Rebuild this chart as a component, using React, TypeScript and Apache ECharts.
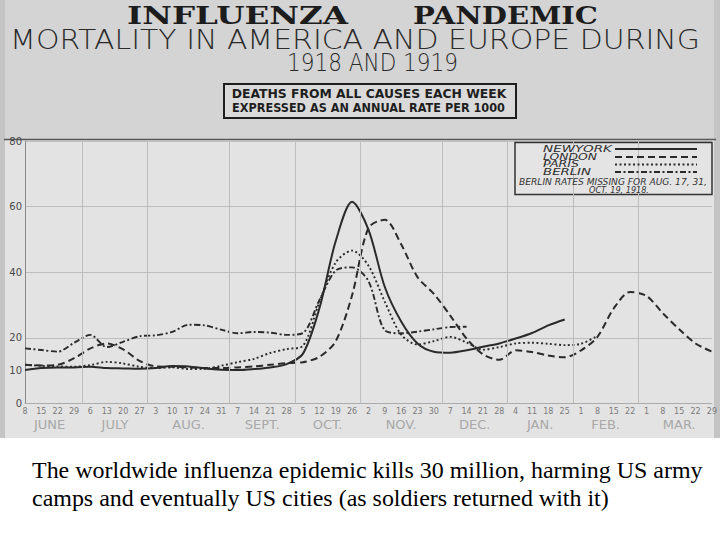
import React, { useEffect, useRef } from "react";
import * as echarts from "echarts";

// ---- data ----
const weekDays = ["8","15","22","29","6","13","20","27","3","10","17","24","31","7","14","21","28","5","12","19","26","2","9","16","23","30","7","14","21","28","4","11","18","25","1","8","15","22","1","8","15","22","29"];
const weekMonth = [0,0,0,0,1,1,1,1,2,2,2,2,2,3,3,3,3,4,4,4,4,5,5,5,5,5,6,6,6,6,7,7,7,7,8,8,8,8,9,9,9,9,9];
const monthNames = ["JUNE","JULY","AUG.","SEPT.","OCT.","NOV.","DEC.","JAN.","FEB.","MAR."];
const yLabelValues = [0, 10, 20, 40, 60, 80];

const seriesNames = ["NEWYORK", "LONDON", "PARIS", "BERLIN"];

const newYork = [10.2,10.8,11.0,11.0,11.2,10.8,10.7,10.6,10.8,11.4,11.3,10.7,10.3,10.2,10.5,11.0,12.0,15.2,29,49.5,61.5,53,35.5,25,18.3,15.8,15.5,16.2,17.3,18.3,19.8,21.5,23.8,25.6,null,null,null,null,null,null,null,null,null];
const london = [11.8,11.6,11.8,13.8,16.8,18.3,16.5,13.0,11.3,11.2,11.0,10.8,10.8,11.0,11.3,11.8,12.3,12.6,14.2,19,33,53.5,56,48.5,38.5,33.4,26.8,19.8,15,13.3,16.2,15.7,14.6,14.1,16.2,20.3,29,34,32.8,27.5,22.6,18.3,15.8];
const paris = [11.8,11.5,11.3,11.2,11.7,12.7,12.2,11.2,10.8,11.0,10.5,10.6,11.5,12.6,13.6,15.4,16.6,17.6,31,43,46.6,42,31,21,18,19,20.3,18.6,16.4,17.2,18.3,18.5,18.2,17.8,18.2,20.6,null,null,null,null,null,null,null];
const berlin = [16.8,16.3,15.8,18.5,20.9,17.2,18.8,20.5,20.8,21.8,24.0,23.8,22.5,21.4,21.8,21.6,20.9,21.5,31.5,40.5,41.5,37.3,22.3,21.4,21.9,22.6,23.3,23.4,null,null,null,null,null,null,null,null,null,null,null,null,null,null,null];

const titleMain = ["INFLUENZA", "PANDEMIC"];
const titleSub = "MORTALITY IN AMERICA AND EUROPE DURING";
const titleYears = "1918 AND 1919";
const boxLines = ["DEATHS FROM ALL CAUSES EACH WEEK", "EXPRESSED AS AN ANNUAL RATE PER 1000"];
const noteLines = ["BERLIN RATES MISSING FOR AUG. 17, 31,", "OCT. 19, 1918."];
const captionLines = [
  "The worldwide influenza epidemic kills 30 million, harming US army",
  "camps and eventually US cities (as soldiers returned with it)",
];

function measureText(text: string, font: string): number {
  const ctx = document.createElement("canvas").getContext("2d");
  if (!ctx) return text.length * 10;
  ctx.font = font;
  return ctx.measureText(text).width || 1;
}

function fitText(text: string, cx: number, cy: number, width: number, size: number, family: string, weight: string, fstyle: string, color: string, z = 10) {
  const w = measureText(text, `${fstyle} ${weight} ${size}px ${family}`);
  return {
    type: "text",
    x: cx,
    y: cy,
    scaleX: width / w,
    z,
    silent: true,
    style: {
      text,
      fontSize: size,
      fontFamily: family,
      fontWeight: weight,
      fontStyle: fstyle,
      fill: color,
      align: "center",
      verticalAlign: "middle",
    },
  };
}

export default function App() {
  const ref = useRef<HTMLDivElement>(null);

  useEffect(() => {
    if (!ref.current) return;
    const chart = echarts.init(ref.current, null, { renderer: "svg" });

    const toPairs = (arr: (number | null)[]) =>
      arr.map((v, i) => [i, v]).filter((p) => p[1] !== null);

    const monthCenters = monthNames.map((_, m) => {
      const idx = weekMonth.map((mm, i) => (mm === m ? i : -1)).filter((i) => i >= 0);
      return idx.reduce((a, b) => a + b, 0) / idx.length;
    });
    const monthBounds: number[] = [];
    for (let i = 1; i < weekMonth.length; i++) {
      if (weekMonth[i] !== weekMonth[i - 1]) monthBounds.push(i - 0.5);
    }

    const ink = "#2a2a2a";
    const styles: any[] = [
      { type: "solid", dash: null, width: 2 },
      { type: [7, 4], dash: [7, 4], width: 2 },
      { type: [2, 2.5], dash: [2, 2.5], width: 1.9 },
      { type: [6, 2.5, 2, 2.5], dash: [6, 2.5, 2, 2.5], width: 1.9 },
    ];
    const dataSets = [newYork, london, paris, berlin];

    const serif = "'DejaVu Serif'";
    const sans = "'DejaVu Sans'";
    const times = "'Liberation Serif'";

    const capBase = 21;
    const capW = measureText(captionLines[0], `normal normal ${capBase}px ${times}`);
    const capSize = (capBase * 671) / capW;

    // legend drawn by hand (text left, line sample right)
    const legendY = [149, 157, 164.5, 172];
    const legendW = [69, 54, 36, 48];
    const legendGraphics: any[] = [];
    seriesNames.forEach((name, k) => {
      legendGraphics.push(fitText(name, 543 + legendW[k] / 2, legendY[k], legendW[k], 9, sans, "normal", "italic", "#2e2e2e", 7));
      legendGraphics.push({
        type: "line",
        silent: true,
        z: 7,
        shape: { x1: 615, y1: legendY[k], x2: 697, y2: legendY[k] },
        style: { stroke: ink, lineWidth: styles[k].width, lineDash: styles[k].dash || undefined },
      });
    });

    const graphics: any[] = [
      { type: "rect", shape: { x: 0, y: 0, width: 720, height: 438 }, style: { fill: "#d4d4d4" }, z: -20, silent: true },
      { type: "rect", shape: { x: 5, y: 140, width: 709, height: 298 }, style: { fill: "#e3e3e3" }, z: -19, silent: true },
      { type: "rect", shape: { x: 0, y: 0, width: 5, height: 438 }, style: { fill: "#c4c4c4" }, z: -18, silent: true },
      { type: "rect", shape: { x: 714, y: 0, width: 6, height: 438 }, style: { fill: "#c4c4c4" }, z: -18, silent: true },
      { type: "line", shape: { x1: 4, y1: 139.5, x2: 716, y2: 139.5 }, style: { stroke: "#555", lineWidth: 1.5 }, z: -5, silent: true },
      fitText(titleMain[0], 237.5, 15.5, 221, 25, serif, "bold", "normal", "#1c1c1c"),
      fitText(titleMain[1], 505.5, 15.5, 185, 25, serif, "bold", "normal", "#1c1c1c"),
      fitText(titleSub, 355, 40, 690, 27, sans, "300", "normal", "#2a2a2a"),
      fitText(titleYears, 372.5, 62.5, 171, 25, sans, "300", "normal", "#2a2a2a"),
      { type: "rect", shape: { x: 224, y: 84, width: 292, height: 34 }, style: { fill: "#dadada", stroke: "#1e1e1e", lineWidth: 2 }, z: 5, silent: true },
      fitText(boxLines[0], 369, 94.5, 275, 12, sans, "bold", "normal", "#1e1e1e"),
      fitText(boxLines[1], 368.5, 107.5, 273, 12, sans, "bold", "normal", "#1e1e1e"),
      { type: "rect", shape: { x: 515, y: 142.5, width: 197, height: 52 }, style: { fill: "#e4e4e4", stroke: "#333", lineWidth: 1.5 }, z: 3, silent: true },
      ...legendGraphics,
      fitText(noteLines[0], 613, 182.5, 188, 8.5, sans, "normal", "italic", "#333", 7),
      fitText(noteLines[1], 619, 189.8, 60, 8.5, sans, "normal", "italic", "#333", 7),
      {
        type: "text", x: 32, y: 470, z: 10, silent: true,
        style: { text: captionLines[0], fontSize: capSize, fontFamily: times, fill: "#000", align: "left", verticalAlign: "middle" },
      },
      {
        type: "text", x: 32, y: 497.5, z: 10, silent: true,
        style: { text: captionLines[1], fontSize: capSize, fontFamily: times, fill: "#000", align: "left", verticalAlign: "middle" },
      },
    ];

    const option: any = {
      animation: false,
      backgroundColor: "#ffffff",
      grid: { left: 25, right: 8, top: 141, bottom: 136.5, containLabel: false },
      xAxis: [
        {
          type: "value",
          min: 0,
          max: 42,
          interval: 1,
          position: "bottom",
          axisLine: { show: true, lineStyle: { color: "#ababab", width: 1 } },
          axisTick: { show: false },
          splitLine: { show: false },
          axisLabel: {
            margin: 4,
            fontSize: 8,
            color: "#7a7a7a",
            fontFamily: sans,
            formatter: (v: number) => weekDays[v] ?? "",
          },
        },
        {
          type: "value",
          min: 0,
          max: 42,
          position: "bottom",
          axisLine: { show: false },
          axisTick: { show: false },
          splitLine: { show: false },
          axisLabel: {
            customValues: monthCenters,
            margin: 14,
            fontSize: 13,
            color: "#a8a8a8",
            fontFamily: sans,
            formatter: (v: number) => {
              const k = monthCenters.findIndex((c) => Math.abs(c - v) < 1e-6);
              return k >= 0 ? monthNames[k] : "";
            },
          },
        },
      ],
      yAxis: {
        type: "value",
        min: 0,
        max: 80,
        interval: 20,
        axisLine: { show: true, lineStyle: { color: "#8a8a8a", width: 1 } },
        axisTick: { show: false },
        splitLine: { show: true, lineStyle: { color: "#bdbdbd", width: 1 } },
        axisLabel: {
          customValues: yLabelValues,
          margin: 3,
          fontSize: 10,
          color: "#4a4a4a",
          fontFamily: sans,
        },
      },
      graphic: graphics,
      series: [
        {
          type: "line",
          name: "_grid",
          data: [],
          xAxisIndex: 0,
          z: 1,
          silent: true,
          markLine: {
            silent: true,
            symbol: "none",
            label: { show: false },
            lineStyle: { color: "#bdbdbd", type: "solid", width: 1 },
            data: monthBounds.map((b) => ({ xAxis: b })),
          },
        },
        ...seriesNames.map((name, k) => ({
          type: "line",
          name,
          data: toPairs(dataSets[k]),
          xAxisIndex: 0,
          smooth: 0.3,
          symbol: "none",
          showSymbol: false,
          z: 2,
          color: ink,
          lineStyle: { color: ink, width: styles[k].width, type: styles[k].type, cap: "butt" },
        })),
      ],
    };

    chart.setOption(option);
    return () => chart.dispose();
  }, []);

  return <div ref={ref} style={{ position: "absolute", left: 0, top: 0, width: 720, height: 540 }} />;
}
